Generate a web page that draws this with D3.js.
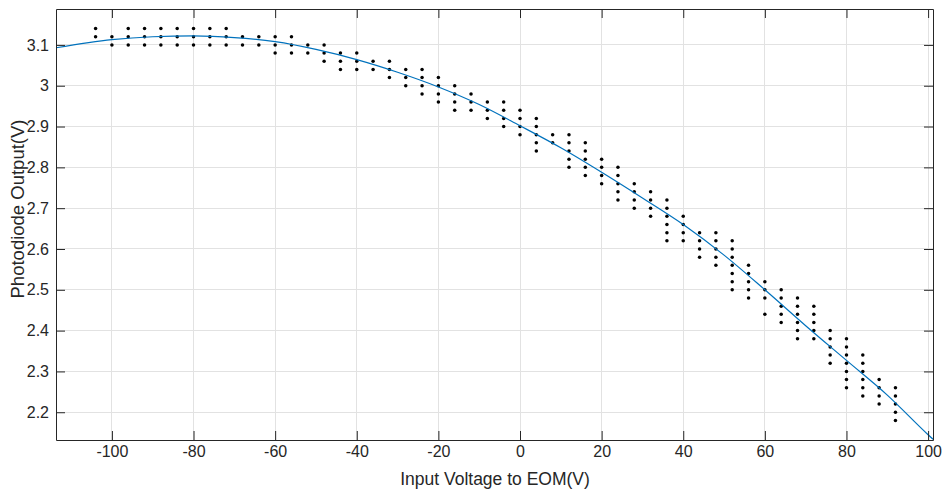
<!DOCTYPE html>
<html>
<head>
<meta charset="utf-8">
<script src="https://cdn.jsdelivr.net/npm/d3@7"></script>
<style>
  html, body { margin: 0; padding: 0; background: #fff; }
  svg { display: block; }
  text { font-family: "Liberation Sans", Arial, Helvetica, sans-serif; }
</style>
</head>
<body>
<svg id="chart" width="944" height="490"></svg>
<script>
// ---- data ----
const inputVoltages = [-104,-100,-96,-92,-88,-84,-80,-76,-72,-68,-64,-60,-56,-52,-48,-44,-40,-36,-32,-28,-24,-20,-16,-12,-8,-4,0,4,8,12,16,20,24,28,32,36,40,44,48,52,56,60,64,68,72,76,80,84,88,92];
const photodiodeReadings = [
  [3.14,3.12],
  [3.12,3.10],
  [3.14,3.12,3.10],
  [3.14,3.12,3.10],
  [3.14,3.12,3.10],
  [3.14,3.12,3.10],
  [3.14,3.12,3.10],
  [3.14,3.12,3.10],
  [3.14,3.12,3.10],
  [3.12,3.10],
  [3.12,3.10],
  [3.12,3.10,3.08],
  [3.12,3.10,3.08],
  [3.10,3.08],
  [3.10,3.08,3.06],
  [3.08,3.06,3.04],
  [3.08,3.06,3.04],
  [3.06,3.04],
  [3.06,3.04,3.02],
  [3.04,3.02,3.00],
  [3.04,3.02,3.00,2.98],
  [3.02,3.00,2.98,2.96],
  [3.00,2.98,2.96,2.94],
  [2.98,2.96,2.94],
  [2.96,2.94,2.92],
  [2.96,2.94,2.92,2.90],
  [2.94,2.92,2.90,2.88],
  [2.92,2.90,2.88,2.86,2.84],
  [2.88,2.86],
  [2.88,2.86,2.84,2.82,2.80],
  [2.86,2.84,2.82,2.80,2.78],
  [2.82,2.80,2.78,2.76],
  [2.80,2.78,2.76,2.74,2.72],
  [2.76,2.74,2.72,2.70],
  [2.74,2.72,2.70,2.68],
  [2.72,2.70,2.68,2.66,2.64,2.62],
  [2.68,2.66,2.64,2.62],
  [2.64,2.62,2.60,2.58],
  [2.64,2.62,2.60,2.58,2.56],
  [2.62,2.60,2.58,2.56,2.54,2.52,2.50],
  [2.56,2.54,2.52,2.50,2.48],
  [2.52,2.50,2.48,2.44],
  [2.50,2.48,2.46,2.44,2.42],
  [2.48,2.46,2.44,2.42,2.40,2.38],
  [2.46,2.44,2.42,2.40,2.38],
  [2.40,2.38,2.36,2.34,2.32],
  [2.38,2.36,2.34,2.32,2.30,2.28,2.26],
  [2.34,2.32,2.30,2.28,2.26,2.24],
  [2.28,2.26,2.24,2.22],
  [2.26,2.24,2.22,2.20,2.18]
];
// fitted curve
const fitVoltages = [-113.7,-100,-90,-80,-70,-60,-50,-40,-30,-20,-10,0,10,20,30,40,50,60,70,80,90,100,101.2];
const fitOutput   = [3.093,3.113,3.120,3.122,3.118,3.108,3.089,3.064,3.033,2.997,2.954,2.902,2.848,2.788,2.725,2.660,2.585,2.500,2.412,2.327,2.242,2.145,2.134];
const xTicks = [-100,-80,-60,-40,-20,0,20,40,60,80,100];
const yTicks = [2.2,2.3,2.4,2.5,2.6,2.7,2.8,2.9,3.0,3.1];
const xLabel = "Input Voltage to EOM(V)";
const yLabel = "Photodiode Output(V)";

// ---- layout ----
const L = 56, R = 933, T = 9, B = 440;
const axisColor = "#262626";
const gridColor = "#e2e2e2";
const tickLen = 9;

const svg = d3.select("#chart");
const x = d3.scaleLinear().domain([-113.7, 101.2]).range([L, R]);
const y = d3.scaleLinear().domain([2.132, 3.188]).range([B, T]);

// grid
const grid = svg.append("g");
grid.selectAll("line.gx").data(xTicks).join("line")
  .attr("x1", d => x(d)).attr("x2", d => x(d)).attr("y1", T).attr("y2", B)
  .attr("stroke", gridColor).attr("stroke-width", 1).attr("shape-rendering", "crispEdges");
grid.selectAll("line.gy").data(yTicks).join("line")
  .attr("y1", d => y(d)).attr("y2", d => y(d)).attr("x1", L).attr("x2", R)
  .attr("stroke", gridColor).attr("stroke-width", 1).attr("shape-rendering", "crispEdges");

// clip
svg.append("clipPath").attr("id", "clip").append("rect")
  .attr("x", L).attr("y", T).attr("width", R - L).attr("height", B - T);

// points
const pts = [];
inputVoltages.forEach((v, i) => photodiodeReadings[i].forEach(o => pts.push([v, o])));
svg.append("g").selectAll("circle").data(pts).join("circle")
  .attr("cx", d => x(d[0])).attr("cy", d => y(d[1])).attr("r", 1.75)
  .attr("fill", "#000");

// fitted line
const line = d3.line().x(d => x(d[0])).y(d => y(d[1])).curve(d3.curveMonotoneX);
svg.append("path").datum(fitVoltages.map((v, i) => [v, fitOutput[i]]))
  .attr("clip-path", "url(#clip)")
  .attr("d", line).attr("fill", "none").attr("stroke", "#0072BD").attr("stroke-width", 1.2);

// axes
const fmtY = d => String(+d.toFixed(1));
const fmtX = d => String(d);
const styleAxis = g => {
  g.selectAll("path.domain").attr("stroke", axisColor);
  g.selectAll(".tick line").attr("stroke", axisColor);
  g.selectAll(".tick text").attr("fill", axisColor).style("font-size", "16px")
    .style("font-family", "'Liberation Sans', Arial, sans-serif");
};
svg.append("g").attr("transform", `translate(0,${B})`)
  .call(d3.axisBottom(x).tickValues(xTicks).tickSizeInner(-tickLen).tickSizeOuter(0).tickPadding(6).tickFormat(fmtX))
  .call(styleAxis);
svg.append("g").attr("transform", `translate(0,${T})`)
  .call(d3.axisTop(x).tickValues(xTicks).tickSizeInner(-tickLen).tickSizeOuter(0).tickFormat(""))
  .call(styleAxis);
svg.append("g").attr("transform", `translate(${L},0)`)
  .call(d3.axisLeft(y).tickValues(yTicks).tickSizeInner(-tickLen).tickSizeOuter(0).tickPadding(7).tickFormat(fmtY))
  .call(styleAxis);
svg.append("g").attr("transform", `translate(${R},0)`)
  .call(d3.axisRight(y).tickValues(yTicks).tickSizeInner(-tickLen).tickSizeOuter(0).tickFormat(""))
  .call(styleAxis);

// labels
svg.append("text").attr("x", 495).attr("y", 485)
  .attr("text-anchor", "middle").attr("fill", axisColor).style("font-size", "17.5px").text(xLabel);
svg.append("text").attr("transform", `translate(24,209) rotate(-90)`)
  .attr("text-anchor", "middle").attr("fill", axisColor).style("font-size", "18.5px").text(yLabel);
</script>
</body>
</html>
